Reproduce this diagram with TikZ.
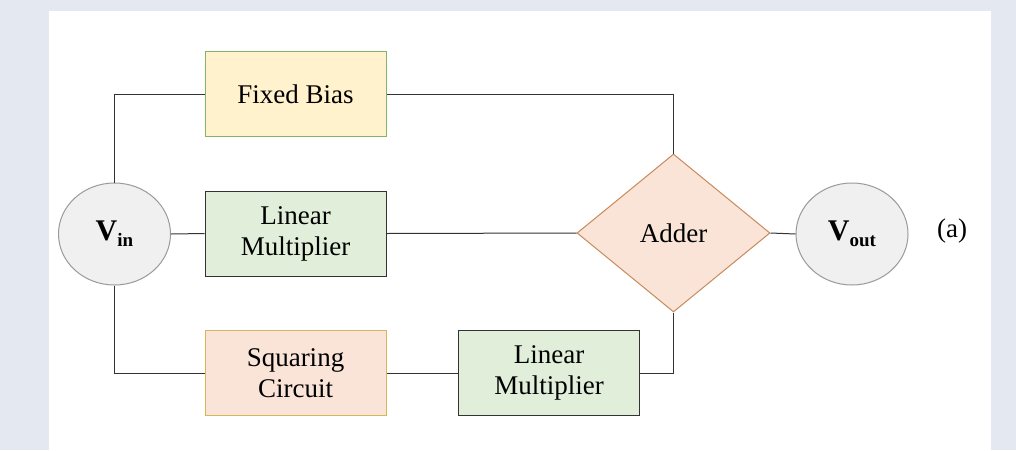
\documentclass[tikz,border=0pt]{standalone}
\usepackage{fontspec}
\setmainfont{Liberation Serif}
\usetikzlibrary{shapes.geometric}
\definecolor{bgc}{HTML}{E3E8F1}
\definecolor{yfill}{HTML}{FFF2CC}
\definecolor{gborder}{HTML}{82B366}
\definecolor{gfill}{HTML}{E1EED9}
\definecolor{ofill}{HTML}{FAE4D7}
\definecolor{oborder}{HTML}{C98A5A}
\definecolor{goldb}{HTML}{D6B656}
\definecolor{cfill}{HTML}{F0F0F0}
\definecolor{cborder}{HTML}{9A9A9A}
\definecolor{wire}{HTML}{333333}
\newcommand{\vsub}[1]{V\raisebox{-6pt}{\fontsize{19}{20}\selectfont #1}}
\begin{document}
\begin{tikzpicture}[x=1pt,y=-1pt,
  blk/.style={draw, line width=1pt, minimum width=181pt, minimum height=85pt, inner sep=0pt, align=center, font=\fontsize{27}{31}\selectfont},
  circ/.style={ellipse, draw=cborder, fill=cfill, line width=1pt, minimum width=112pt, minimum height=102pt, inner sep=0pt, font=\fontsize{30}{34}\selectfont\bfseries},
  wirel/.style={draw=wire, line width=1pt}]
\fill[bgc] (0,0) rectangle (1016,450);
\fill[white] (49,11) rectangle (991,450);
\useasboundingbox (0,0) rectangle (1016,450);

\node[blk, draw=gborder, fill=yfill] (fb) at (295.5,94) {Fixed Bias};
\node[blk, draw=wire, fill=gfill] (lm1) at (295.5,233.5) {Linear\\Multiplier};
\node[blk, draw=goldb, fill=ofill] (sq) at (295.5,373) {Squaring\\Circuit};
\node[blk, draw=wire, fill=gfill] (lm2) at (549,373) {Linear\\Multiplier};
\node[circ] (vin) at (114.5,234) {\vsub{in}};
\node[circ] (vout) at (852,234) {\vsub{out}};
\node[diamond, draw=oborder, fill=ofill, line width=1pt, minimum width=193pt, minimum height=158pt, inner sep=0pt, aspect=1.22, font=\fontsize{27}{31}\selectfont] (add) at (673.5,233) {Adder};
\node[font=\fontsize{27}{31}\selectfont] (lab) at (952,231) {(a)};

\draw[wirel] (vin.north) |- (fb.west);
\draw[wirel] (fb.east) -| (add.north);
\draw[wirel] (vin.east) -- (lm1.west);
\draw[wirel] (lm1.east) -- (add.west);
\draw[wirel] (vin.south) |- (sq.west);
\draw[wirel] (sq.east) -- (lm2.west);
\draw[wirel] (lm2.east) -| (add.south);
\draw[wirel] (add.east) -- (vout.west);
\end{tikzpicture}
\end{document}
